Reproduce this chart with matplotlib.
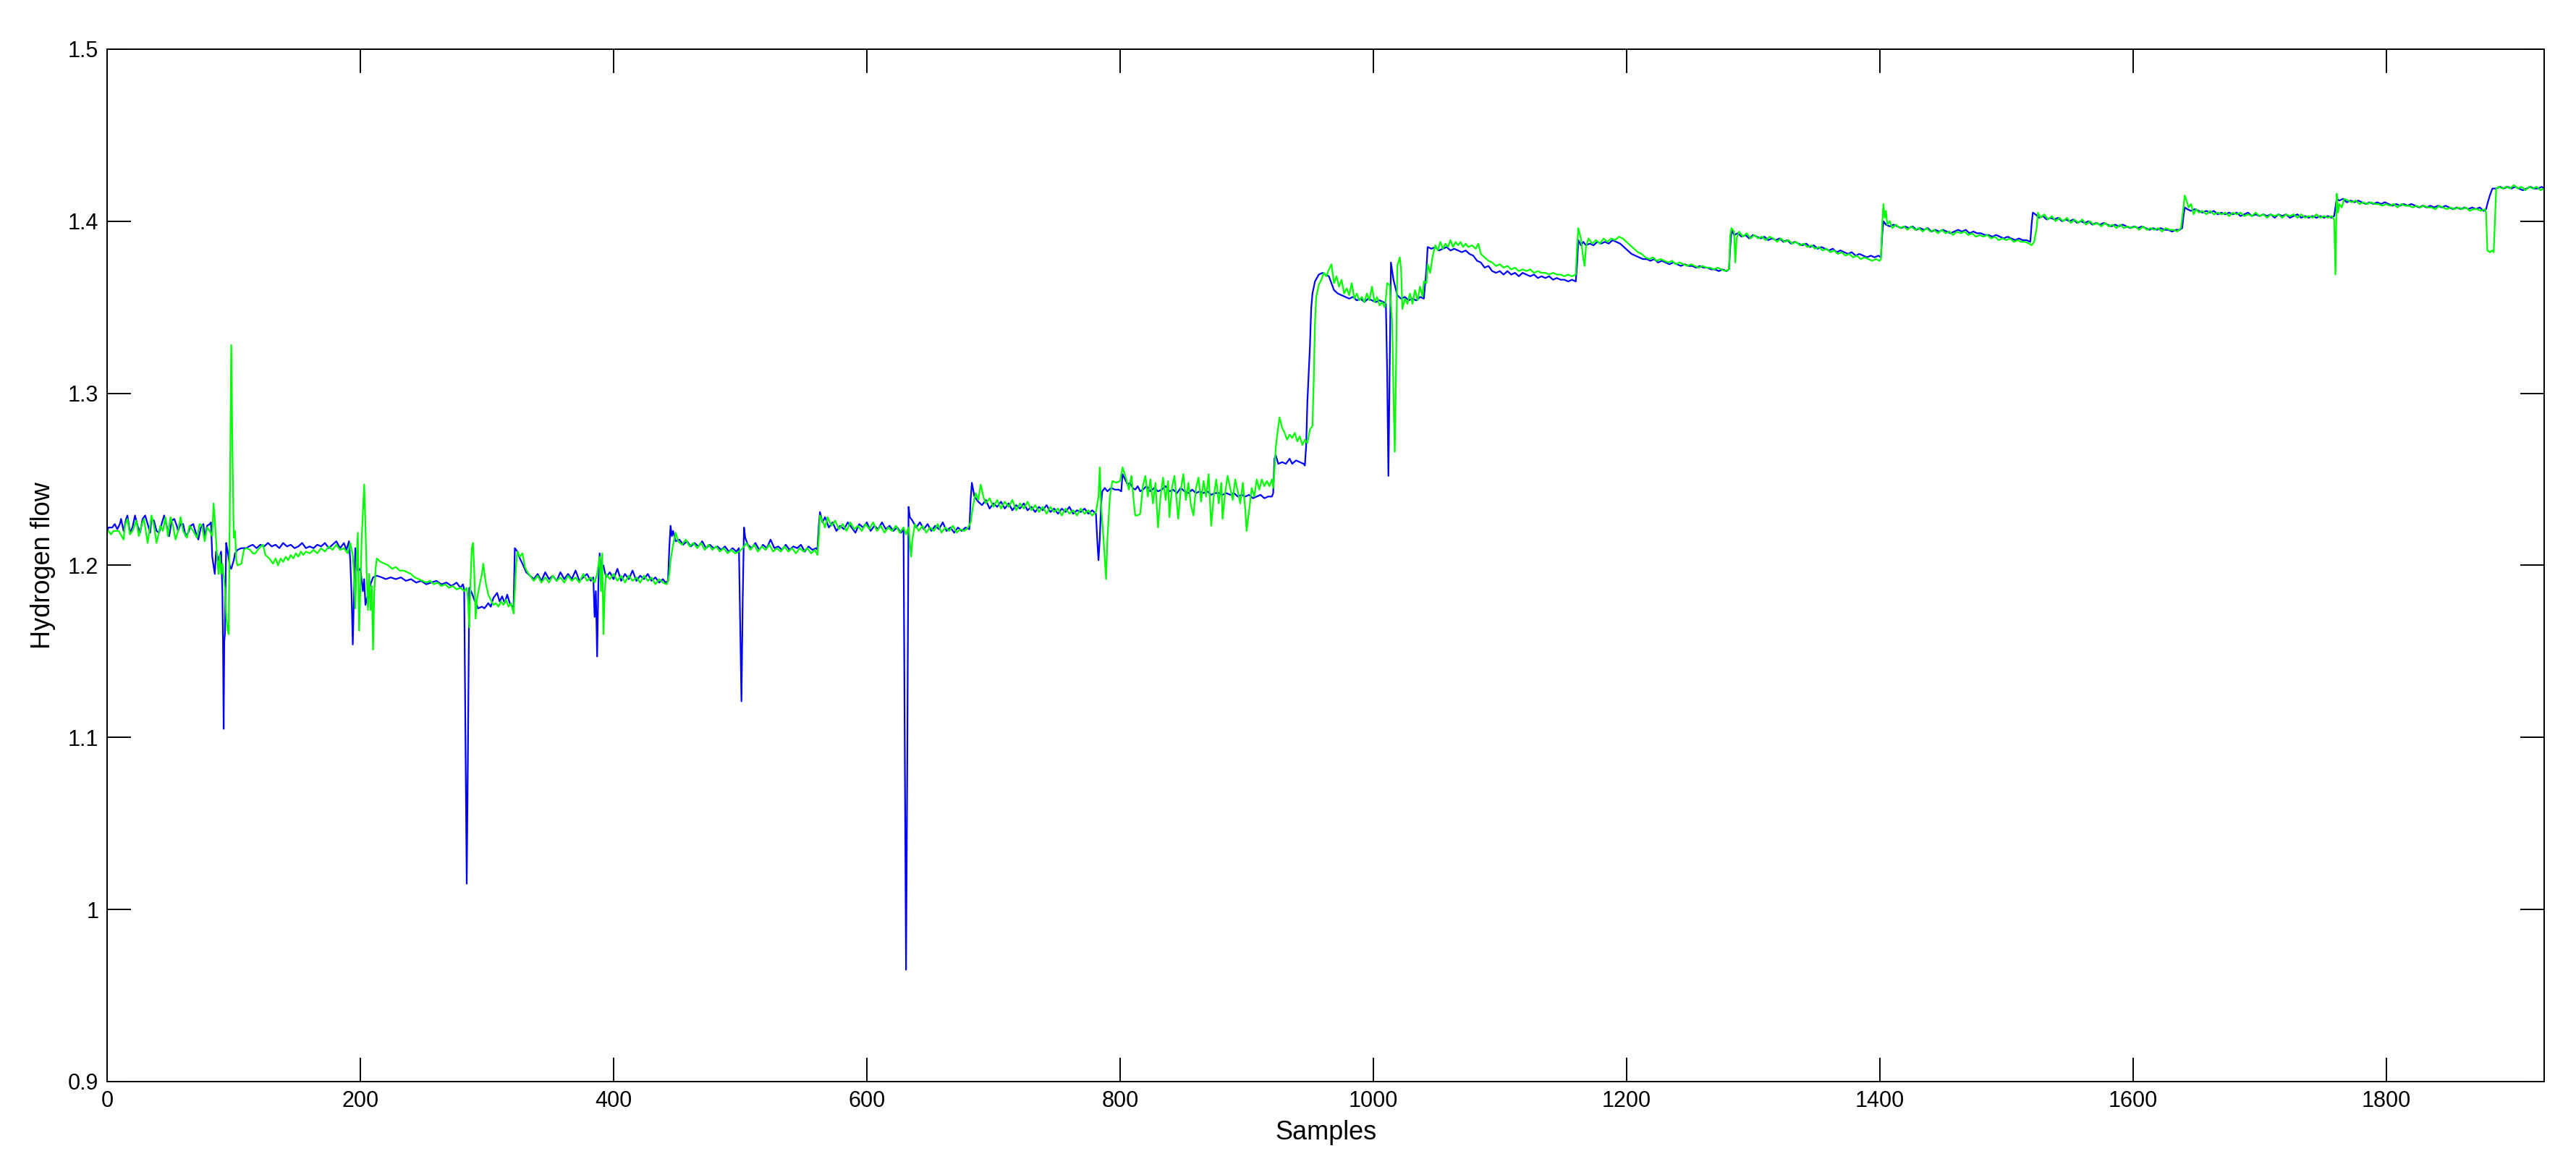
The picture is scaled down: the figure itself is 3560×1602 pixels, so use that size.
import numpy as np
import matplotlib
matplotlib.use('Agg')
import matplotlib.pyplot as plt
from matplotlib.ticker import FuncFormatter

plt.rcParams['font.family'] = ['Liberation Sans', 'DejaVu Sans']

# (sample, hydrogen flow)
blue_points = [
    (0, 1.220), (1, 1.222), (4, 1.222), (6, 1.224), (8, 1.221), (10, 1.224), (11, 1.227), (13, 1.220),
    (15, 1.227), (16, 1.229), (18, 1.219), (20, 1.222), (22, 1.229), (24, 1.223), (26, 1.219), (28, 1.227),
    (30, 1.229), (32, 1.224), (34, 1.219), (35, 1.227), (37, 1.226), (39, 1.220), (41, 1.219), (43, 1.224),
    (45, 1.229), (47, 1.223), (49, 1.217), (51, 1.226), (53, 1.227), (55, 1.223), (56, 1.220), (58, 1.224),
    (60, 1.224), (62, 1.217), (64, 1.219), (66, 1.223), (68, 1.224), (70, 1.219), (72, 1.215), (74, 1.222),
    (76, 1.224), (77, 1.217), (79, 1.223), (81, 1.224), (82, 1.225), (83, 1.205), (85, 1.195), (86, 1.208),
    (88, 1.203), (90, 1.208), (91, 1.185), (91.5, 1.156), (92, 1.105), (92.5, 1.156), (93, 1.160), (94, 1.213),
    (95, 1.209), (97, 1.199), (98, 1.198), (100, 1.203), (101, 1.207), (103, 1.209), (106, 1.210), (110, 1.210),
    (112, 1.211), (115, 1.212), (118, 1.210), (121, 1.212), (124, 1.211), (127, 1.213), (130, 1.211), (133, 1.212),
    (136, 1.210), (139, 1.213), (142, 1.211), (145, 1.212), (148, 1.210), (151, 1.211), (154, 1.213), (157, 1.210),
    (160, 1.211), (163, 1.210), (166, 1.212), (169, 1.211), (172, 1.213), (175, 1.210), (178, 1.212), (181, 1.214),
    (184, 1.210), (187, 1.213), (189, 1.209), (191, 1.214), (192, 1.203), (193, 1.184), (194, 1.154), (195, 1.184),
    (196, 1.210), (197, 1.198), (198, 1.197), (200, 1.198), (202, 1.185), (203, 1.192), (204, 1.177), (205, 1.180),
    (207, 1.186), (208, 1.189), (210, 1.193), (213, 1.194), (217, 1.193), (220, 1.192), (224, 1.193), (228, 1.192),
    (232, 1.193), (236, 1.191), (240, 1.192), (244, 1.190), (248, 1.191), (252, 1.189), (256, 1.190), (260, 1.191),
    (264, 1.189), (268, 1.190), (272, 1.188), (276, 1.190), (279, 1.187), (281, 1.189), (282, 1.186), (283, 1.100),
    (284, 1.015), (285, 1.095), (286, 1.187), (288, 1.184), (290, 1.180), (293, 1.175), (296, 1.176), (298, 1.175),
    (301, 1.178), (303, 1.176), (305, 1.181), (308, 1.184), (310, 1.179), (312, 1.182), (314, 1.178), (316, 1.183),
    (318, 1.178), (320, 1.176), (321, 1.176), (322, 1.210), (324, 1.208), (326, 1.204), (328, 1.201), (331, 1.196),
    (334, 1.194), (337, 1.192), (340, 1.195), (343, 1.191), (346, 1.196), (349, 1.192), (352, 1.194), (355, 1.191),
    (358, 1.196), (361, 1.192), (364, 1.195), (367, 1.192), (370, 1.197), (373, 1.191), (376, 1.193), (379, 1.195),
    (382, 1.191), (384, 1.193), (385, 1.170), (386, 1.185), (387, 1.147), (388, 1.190), (389, 1.207), (390, 1.196),
    (392, 1.200), (394, 1.193), (397, 1.196), (400, 1.192), (403, 1.198), (406, 1.191), (409, 1.195), (412, 1.192),
    (415, 1.197), (418, 1.191), (421, 1.194), (424, 1.192), (427, 1.195), (430, 1.191), (433, 1.193), (436, 1.190),
    (439, 1.192), (441, 1.190), (443, 1.191), (444, 1.210), (445, 1.223), (446, 1.217), (447, 1.220), (449, 1.214),
    (452, 1.215), (455, 1.212), (458, 1.214), (461, 1.211), (464, 1.213), (467, 1.211), (470, 1.214), (473, 1.210),
    (476, 1.212), (479, 1.210), (482, 1.211), (485, 1.209), (488, 1.211), (491, 1.208), (494, 1.210), (497, 1.208),
    (499, 1.210), (500, 1.165), (501, 1.121), (502, 1.180), (503, 1.222), (504, 1.216), (506, 1.212), (509, 1.210),
    (512, 1.213), (515, 1.209), (518, 1.212), (521, 1.210), (524, 1.215), (527, 1.210), (530, 1.211), (533, 1.209),
    (536, 1.212), (539, 1.209), (542, 1.211), (545, 1.210), (548, 1.212), (551, 1.208), (554, 1.211), (557, 1.209),
    (560, 1.210), (561, 1.209), (562, 1.222), (563, 1.231), (565, 1.225), (567, 1.228), (570, 1.222), (573, 1.225),
    (576, 1.220), (579, 1.223), (582, 1.221), (585, 1.225), (588, 1.222), (591, 1.219), (594, 1.224), (597, 1.222),
    (600, 1.225), (603, 1.220), (606, 1.223), (609, 1.221), (612, 1.225), (615, 1.221), (618, 1.223), (621, 1.220),
    (624, 1.222), (627, 1.219), (629, 1.221), (630, 1.090), (631, 0.965), (632, 1.090), (633, 1.234), (634, 1.228),
    (636, 1.226), (639, 1.222), (642, 1.225), (645, 1.221), (648, 1.224), (651, 1.220), (654, 1.223), (657, 1.221),
    (660, 1.225), (663, 1.220), (666, 1.222), (669, 1.219), (672, 1.222), (675, 1.220), (678, 1.222), (681, 1.221),
    (682, 1.238), (683, 1.248), (685, 1.240), (688, 1.237), (691, 1.235), (694, 1.238), (697, 1.233), (700, 1.236),
    (703, 1.234), (706, 1.237), (709, 1.233), (712, 1.236), (715, 1.232), (718, 1.235), (721, 1.233), (724, 1.236),
    (727, 1.232), (730, 1.234), (733, 1.231), (736, 1.234), (739, 1.232), (742, 1.235), (745, 1.231), (748, 1.233),
    (751, 1.230), (754, 1.233), (757, 1.231), (760, 1.234), (763, 1.230), (766, 1.232), (769, 1.231), (772, 1.233),
    (775, 1.230), (778, 1.232), (781, 1.230), (782, 1.215), (783, 1.203), (784, 1.215), (785, 1.235), (786, 1.243),
    (788, 1.245), (790, 1.243), (793, 1.245), (796, 1.244), (799, 1.244), (801, 1.243), (802, 1.253), (804, 1.250),
    (806, 1.247), (808, 1.248), (810, 1.245), (812, 1.244), (814, 1.246), (816, 1.243), (818, 1.244), (821, 1.246),
    (824, 1.243), (827, 1.245), (830, 1.243), (833, 1.244), (836, 1.246), (839, 1.243), (842, 1.244), (845, 1.242),
    (848, 1.245), (851, 1.243), (854, 1.242), (857, 1.244), (860, 1.242), (863, 1.243), (866, 1.242), (869, 1.243),
    (872, 1.241), (875, 1.242), (878, 1.242), (881, 1.241), (884, 1.242), (887, 1.241), (890, 1.242), (893, 1.240),
    (896, 1.241), (899, 1.240), (902, 1.241), (905, 1.239), (908, 1.240), (911, 1.241), (914, 1.239), (917, 1.240),
    (920, 1.240), (921, 1.242), (922, 1.262), (923, 1.264), (925, 1.259), (928, 1.260), (931, 1.259), (934, 1.262),
    (936, 1.259), (939, 1.261), (942, 1.260), (945, 1.259), (946, 1.258), (947, 1.269), (948, 1.295), (950, 1.327),
    (951, 1.349), (952, 1.358), (954, 1.365), (957, 1.369), (960, 1.370), (962, 1.369), (965, 1.368), (967, 1.364),
    (969, 1.360), (972, 1.358), (975, 1.357), (978, 1.356), (981, 1.355), (984, 1.356), (987, 1.354), (990, 1.355),
    (993, 1.353), (996, 1.355), (999, 1.354), (1002, 1.353), (1005, 1.354), (1008, 1.353), (1010, 1.352), (1011, 1.313),
    (1012, 1.252), (1013, 1.313), (1014, 1.376), (1016, 1.366), (1019, 1.357), (1022, 1.355), (1025, 1.356), (1028, 1.354),
    (1031, 1.355), (1034, 1.354), (1037, 1.356), (1040, 1.355), (1042, 1.372), (1043, 1.385), (1046, 1.384), (1049, 1.385),
    (1052, 1.383), (1055, 1.384), (1058, 1.385), (1061, 1.383), (1064, 1.384), (1067, 1.383), (1070, 1.382), (1073, 1.383),
    (1076, 1.381), (1079, 1.380), (1082, 1.377), (1085, 1.376), (1088, 1.373), (1091, 1.374), (1094, 1.371), (1097, 1.370),
    (1100, 1.371), (1103, 1.369), (1106, 1.371), (1109, 1.369), (1112, 1.370), (1115, 1.368), (1118, 1.370), (1121, 1.369),
    (1124, 1.368), (1127, 1.369), (1130, 1.367), (1133, 1.368), (1136, 1.367), (1139, 1.368), (1142, 1.366), (1145, 1.367),
    (1148, 1.366), (1151, 1.366), (1154, 1.365), (1157, 1.366), (1160, 1.365), (1161, 1.375), (1162, 1.389), (1164, 1.386),
    (1166, 1.388), (1168, 1.386), (1171, 1.387), (1174, 1.386), (1177, 1.388), (1180, 1.387), (1183, 1.388), (1186, 1.387),
    (1189, 1.389), (1192, 1.388), (1195, 1.387), (1198, 1.385), (1201, 1.383), (1204, 1.381), (1207, 1.380), (1210, 1.379),
    (1213, 1.378), (1216, 1.378), (1219, 1.377), (1222, 1.378), (1225, 1.376), (1228, 1.377), (1231, 1.376), (1234, 1.375),
    (1237, 1.376), (1240, 1.375), (1243, 1.374), (1246, 1.375), (1249, 1.374), (1252, 1.374), (1255, 1.373), (1258, 1.374),
    (1261, 1.373), (1264, 1.373), (1267, 1.372), (1270, 1.372), (1273, 1.371), (1276, 1.372), (1279, 1.371), (1281, 1.372),
    (1282, 1.385), (1283, 1.395), (1285, 1.392), (1288, 1.393), (1291, 1.391), (1294, 1.392), (1297, 1.390), (1300, 1.392),
    (1303, 1.391), (1306, 1.390), (1309, 1.391), (1312, 1.389), (1315, 1.390), (1318, 1.389), (1321, 1.390), (1324, 1.388),
    (1327, 1.389), (1330, 1.387), (1333, 1.388), (1336, 1.387), (1339, 1.386), (1342, 1.387), (1345, 1.385), (1348, 1.386),
    (1351, 1.384), (1354, 1.385), (1357, 1.384), (1360, 1.383), (1363, 1.384), (1366, 1.382), (1369, 1.383), (1372, 1.382),
    (1375, 1.381), (1378, 1.382), (1381, 1.380), (1384, 1.381), (1387, 1.380), (1390, 1.379), (1393, 1.380), (1396, 1.379),
    (1399, 1.380), (1401, 1.379), (1402, 1.392), (1403, 1.400), (1405, 1.398), (1408, 1.397), (1411, 1.398), (1414, 1.397),
    (1417, 1.396), (1420, 1.397), (1423, 1.396), (1426, 1.397), (1429, 1.395), (1432, 1.396), (1435, 1.395), (1438, 1.396),
    (1441, 1.394), (1444, 1.395), (1447, 1.394), (1450, 1.395), (1453, 1.394), (1456, 1.393), (1459, 1.394), (1462, 1.395),
    (1465, 1.394), (1468, 1.395), (1471, 1.393), (1474, 1.394), (1477, 1.393), (1480, 1.393), (1483, 1.392), (1486, 1.392),
    (1489, 1.391), (1492, 1.392), (1495, 1.391), (1498, 1.390), (1501, 1.391), (1504, 1.390), (1507, 1.389), (1510, 1.390),
    (1513, 1.389), (1516, 1.389), (1519, 1.388), (1520, 1.398), (1521, 1.405), (1523, 1.404), (1526, 1.402), (1529, 1.403),
    (1532, 1.401), (1535, 1.402), (1538, 1.401), (1541, 1.402), (1544, 1.400), (1547, 1.401), (1550, 1.400), (1553, 1.401),
    (1556, 1.399), (1559, 1.400), (1562, 1.399), (1565, 1.400), (1568, 1.398), (1571, 1.399), (1574, 1.398), (1577, 1.399),
    (1580, 1.398), (1583, 1.397), (1586, 1.398), (1589, 1.397), (1592, 1.398), (1595, 1.397), (1598, 1.396), (1601, 1.397),
    (1604, 1.396), (1607, 1.397), (1610, 1.396), (1613, 1.395), (1616, 1.396), (1619, 1.395), (1622, 1.396), (1625, 1.395),
    (1628, 1.395), (1631, 1.394), (1634, 1.395), (1637, 1.395), (1639, 1.396), (1640, 1.403), (1641, 1.408), (1643, 1.407),
    (1646, 1.406), (1649, 1.407), (1652, 1.406), (1655, 1.405), (1658, 1.406), (1661, 1.405), (1664, 1.406), (1667, 1.404),
    (1670, 1.405), (1673, 1.404), (1676, 1.405), (1679, 1.404), (1682, 1.405), (1685, 1.403), (1688, 1.404), (1691, 1.405),
    (1694, 1.403), (1697, 1.404), (1700, 1.403), (1703, 1.404), (1706, 1.403), (1709, 1.404), (1712, 1.402), (1715, 1.404),
    (1718, 1.403), (1721, 1.404), (1724, 1.402), (1727, 1.403), (1730, 1.404), (1733, 1.402), (1736, 1.403), (1739, 1.402),
    (1742, 1.403), (1745, 1.402), (1748, 1.403), (1751, 1.402), (1754, 1.403), (1757, 1.402), (1759, 1.403), (1760, 1.408),
    (1761, 1.413), (1763, 1.412), (1766, 1.413), (1769, 1.411), (1772, 1.412), (1775, 1.411), (1778, 1.412), (1781, 1.411),
    (1784, 1.410), (1787, 1.411), (1790, 1.410), (1793, 1.411), (1796, 1.410), (1799, 1.411), (1802, 1.410), (1805, 1.409),
    (1808, 1.410), (1811, 1.409), (1814, 1.410), (1817, 1.409), (1820, 1.410), (1823, 1.409), (1826, 1.408), (1829, 1.409),
    (1832, 1.408), (1835, 1.409), (1838, 1.408), (1841, 1.409), (1844, 1.408), (1847, 1.409), (1850, 1.408), (1853, 1.407),
    (1856, 1.408), (1859, 1.407), (1862, 1.408), (1865, 1.407), (1868, 1.408), (1871, 1.407), (1874, 1.408), (1877, 1.406),
    (1879, 1.407), (1880, 1.410), (1882, 1.415), (1884, 1.419), (1887, 1.419), (1890, 1.420), (1893, 1.419), (1896, 1.420),
    (1899, 1.419), (1902, 1.420), (1905, 1.419), (1908, 1.418), (1911, 1.419), (1914, 1.420), (1917, 1.419), (1920, 1.419),
    (1923, 1.420), (1925, 1.419),
]

green_points = [
    (0, 1.219), (1, 1.220), (3, 1.218), (5, 1.220), (9, 1.220), (13, 1.215), (14, 1.223), (16, 1.227), (18, 1.218),
    (20, 1.220), (23, 1.226), (25, 1.217), (27, 1.223), (29, 1.227), (32, 1.213), (34, 1.223), (35, 1.229), (37, 1.223),
    (39, 1.213), (42, 1.223), (44, 1.220), (46, 1.228), (48, 1.217), (50, 1.228), (52, 1.223), (54, 1.215), (56, 1.220),
    (58, 1.228), (60, 1.220), (63, 1.216), (65, 1.223), (68, 1.220), (71, 1.216), (73, 1.224), (75, 1.223), (77, 1.214),
    (79, 1.222), (81, 1.220), (83, 1.217), (84, 1.236), (85, 1.227), (86, 1.215), (87, 1.203), (88, 1.195), (89, 1.206),
    (90, 1.195), (91, 1.201), (93, 1.187), (94, 1.171), (95, 1.163), (96, 1.160), (97, 1.244), (98, 1.328), (99, 1.263),
    (100, 1.216), (101, 1.220), (102, 1.203), (103, 1.200), (106, 1.201), (108, 1.209), (110, 1.210), (113, 1.209),
    (115, 1.207), (117, 1.207), (120, 1.210), (123, 1.212), (125, 1.206), (128, 1.204), (131, 1.201), (133, 1.204),
    (135, 1.200), (137, 1.204), (139, 1.202), (141, 1.205), (143, 1.203), (145, 1.206), (147, 1.204), (149, 1.207),
    (151, 1.205), (153, 1.208), (155, 1.206), (157, 1.208), (160, 1.207), (163, 1.209), (166, 1.207), (169, 1.210),
    (172, 1.208), (175, 1.211), (178, 1.209), (181, 1.212), (184, 1.209), (187, 1.210), (190, 1.207), (192, 1.213),
    (194, 1.206), (195, 1.195), (196, 1.175), (197, 1.203), (198, 1.219), (199, 1.162), (200, 1.187), (201, 1.215),
    (203, 1.247), (204, 1.223), (205, 1.195), (206, 1.174), (207, 1.195), (208, 1.174), (209, 1.188), (210, 1.151),
    (211, 1.185), (212, 1.198), (213, 1.204), (216, 1.202), (219, 1.201), (222, 1.200), (225, 1.198), (228, 1.199),
    (231, 1.197), (234, 1.197), (237, 1.196), (240, 1.195), (243, 1.193), (246, 1.192), (249, 1.191), (252, 1.190),
    (255, 1.191), (258, 1.189), (261, 1.190), (264, 1.188), (267, 1.189), (270, 1.187), (273, 1.188), (276, 1.186),
    (279, 1.187), (282, 1.185), (284, 1.187), (285, 1.180), (286, 1.164), (287, 1.190), (288, 1.210), (289, 1.213),
    (290, 1.195), (291, 1.169), (292, 1.180), (294, 1.188), (296, 1.195), (297, 1.201), (299, 1.190), (301, 1.183),
    (303, 1.180), (305, 1.177), (307, 1.178), (309, 1.176), (311, 1.179), (313, 1.177), (315, 1.180), (317, 1.176),
    (319, 1.178), (321, 1.172), (322, 1.185), (323, 1.200), (324, 1.208), (326, 1.205), (328, 1.207), (330, 1.199),
    (332, 1.196), (334, 1.194), (337, 1.191), (340, 1.194), (343, 1.190), (346, 1.193), (349, 1.190), (352, 1.194),
    (355, 1.191), (358, 1.193), (361, 1.190), (364, 1.194), (367, 1.191), (370, 1.193), (373, 1.190), (376, 1.195),
    (379, 1.191), (382, 1.193), (385, 1.190), (387, 1.195), (389, 1.205), (390, 1.185), (391, 1.207), (392, 1.160),
    (393, 1.185), (394, 1.195), (397, 1.192), (400, 1.195), (403, 1.191), (406, 1.194), (409, 1.190), (412, 1.194),
    (415, 1.191), (418, 1.193), (421, 1.190), (424, 1.194), (427, 1.191), (430, 1.193), (433, 1.189), (436, 1.192),
    (439, 1.190), (442, 1.189), (443, 1.191), (444, 1.195), (445, 1.203), (447, 1.212), (449, 1.219), (451, 1.214),
    (454, 1.212), (457, 1.215), (460, 1.211), (463, 1.213), (466, 1.210), (469, 1.213), (472, 1.209), (475, 1.212),
    (478, 1.209), (481, 1.211), (484, 1.208), (487, 1.210), (490, 1.207), (493, 1.209), (496, 1.207), (499, 1.208),
    (502, 1.210), (505, 1.213), (508, 1.209), (511, 1.212), (514, 1.208), (517, 1.211), (520, 1.209), (523, 1.212),
    (526, 1.208), (529, 1.210), (532, 1.208), (535, 1.211), (538, 1.208), (541, 1.210), (544, 1.207), (547, 1.210),
    (550, 1.208), (553, 1.210), (556, 1.207), (559, 1.209), (561, 1.206), (562, 1.215), (563, 1.229), (565, 1.226),
    (567, 1.222), (569, 1.228), (572, 1.223), (575, 1.226), (578, 1.221), (581, 1.224), (584, 1.220), (587, 1.225),
    (590, 1.221), (593, 1.223), (596, 1.220), (599, 1.224), (602, 1.221), (605, 1.225), (608, 1.220), (611, 1.223),
    (614, 1.219), (617, 1.222), (620, 1.220), (623, 1.223), (626, 1.219), (629, 1.222), (631, 1.218), (633, 1.222),
    (635, 1.205), (636, 1.215), (638, 1.224), (641, 1.220), (644, 1.223), (647, 1.219), (650, 1.222), (653, 1.220),
    (656, 1.224), (659, 1.219), (662, 1.222), (665, 1.220), (668, 1.223), (671, 1.219), (674, 1.221), (677, 1.220),
    (680, 1.222), (682, 1.225), (684, 1.235), (686, 1.242), (688, 1.238), (690, 1.247), (692, 1.240), (694, 1.236),
    (697, 1.239), (700, 1.234), (703, 1.238), (706, 1.233), (709, 1.237), (712, 1.234), (715, 1.238), (718, 1.232),
    (721, 1.236), (724, 1.233), (727, 1.237), (730, 1.232), (733, 1.235), (736, 1.231), (739, 1.234), (742, 1.230),
    (745, 1.234), (748, 1.231), (751, 1.233), (754, 1.229), (757, 1.233), (760, 1.230), (763, 1.232), (766, 1.229),
    (769, 1.233), (772, 1.230), (775, 1.232), (778, 1.229), (781, 1.231), (783, 1.240), (784, 1.257), (785, 1.235),
    (787, 1.215), (789, 1.192), (790, 1.215), (792, 1.240), (794, 1.249), (797, 1.248), (800, 1.249), (802, 1.257),
    (805, 1.250), (807, 1.244), (809, 1.252), (811, 1.236), (812, 1.229), (814, 1.229), (816, 1.230), (818, 1.246),
    (820, 1.252), (822, 1.240), (824, 1.250), (826, 1.236), (828, 1.248), (830, 1.222), (832, 1.240), (834, 1.251),
    (836, 1.238), (838, 1.249), (839, 1.228), (841, 1.245), (843, 1.252), (845, 1.235), (846, 1.227), (848, 1.244),
    (850, 1.253), (852, 1.238), (854, 1.248), (856, 1.235), (858, 1.229), (860, 1.245), (862, 1.251), (864, 1.237),
    (866, 1.249), (868, 1.240), (870, 1.253), (872, 1.223), (874, 1.240), (876, 1.250), (878, 1.236), (880, 1.248),
    (881, 1.227), (883, 1.242), (885, 1.252), (887, 1.245), (889, 1.238), (891, 1.250), (893, 1.243), (895, 1.236),
    (897, 1.248), (899, 1.232), (900, 1.220), (902, 1.232), (904, 1.245), (906, 1.240), (908, 1.250), (910, 1.244),
    (912, 1.250), (914, 1.246), (916, 1.249), (918, 1.246), (920, 1.250), (921, 1.245), (922, 1.255), (923, 1.268),
    (924, 1.275), (926, 1.286), (928, 1.280), (930, 1.277), (932, 1.273), (934, 1.276), (936, 1.274), (938, 1.277),
    (940, 1.272), (942, 1.275), (944, 1.270), (946, 1.273), (948, 1.271), (950, 1.279), (952, 1.281), (953, 1.307),
    (954, 1.341), (955, 1.356), (957, 1.363), (959, 1.366), (961, 1.370), (963, 1.368), (965, 1.372), (967, 1.375),
    (969, 1.364), (971, 1.368), (973, 1.362), (975, 1.366), (977, 1.358), (979, 1.361), (981, 1.357), (983, 1.364),
    (985, 1.355), (987, 1.358), (989, 1.354), (991, 1.356), (993, 1.353), (995, 1.358), (997, 1.354), (999, 1.362),
    (1001, 1.353), (1003, 1.356), (1005, 1.351), (1007, 1.353), (1009, 1.350), (1010, 1.355), (1011, 1.364),
    (1013, 1.363), (1015, 1.340), (1016, 1.300), (1017, 1.266), (1018, 1.313), (1019, 1.374), (1021, 1.379),
    (1022, 1.372), (1023, 1.349), (1025, 1.355), (1027, 1.352), (1029, 1.358), (1031, 1.352), (1033, 1.360),
    (1035, 1.354), (1037, 1.362), (1039, 1.356), (1040, 1.365), (1042, 1.364), (1043, 1.375), (1045, 1.370),
    (1047, 1.380), (1049, 1.386), (1051, 1.383), (1053, 1.388), (1055, 1.384), (1057, 1.387), (1059, 1.385),
    (1061, 1.389), (1063, 1.385), (1065, 1.388), (1067, 1.386), (1069, 1.388), (1071, 1.385), (1073, 1.387),
    (1075, 1.385), (1078, 1.386), (1081, 1.384), (1083, 1.387), (1085, 1.381), (1088, 1.379), (1091, 1.377),
    (1094, 1.376), (1097, 1.374), (1100, 1.375), (1103, 1.373), (1106, 1.374), (1109, 1.372), (1112, 1.373),
    (1115, 1.371), (1118, 1.372), (1121, 1.371), (1124, 1.372), (1127, 1.370), (1130, 1.371), (1133, 1.370),
    (1136, 1.370), (1139, 1.369), (1142, 1.370), (1145, 1.369), (1148, 1.369), (1151, 1.368), (1154, 1.369),
    (1157, 1.368), (1160, 1.369), (1161, 1.385), (1162, 1.396), (1164, 1.390), (1166, 1.378), (1167, 1.374),
    (1168, 1.385), (1170, 1.390), (1173, 1.387), (1176, 1.389), (1179, 1.387), (1182, 1.390), (1185, 1.388),
    (1188, 1.390), (1191, 1.389), (1194, 1.391), (1197, 1.390), (1200, 1.388), (1203, 1.386), (1206, 1.384),
    (1209, 1.382), (1212, 1.381), (1215, 1.379), (1218, 1.378), (1221, 1.379), (1224, 1.377), (1227, 1.378),
    (1230, 1.377), (1233, 1.376), (1236, 1.377), (1239, 1.375), (1242, 1.376), (1245, 1.375), (1248, 1.374),
    (1251, 1.375), (1254, 1.374), (1257, 1.373), (1260, 1.374), (1263, 1.373), (1266, 1.373), (1269, 1.372),
    (1272, 1.373), (1275, 1.372), (1278, 1.371), (1281, 1.372), (1282, 1.392), (1283, 1.396), (1285, 1.394),
    (1286, 1.376), (1287, 1.390), (1289, 1.394), (1292, 1.391), (1295, 1.393), (1298, 1.390), (1301, 1.392),
    (1304, 1.390), (1307, 1.391), (1310, 1.389), (1313, 1.391), (1316, 1.390), (1319, 1.388), (1322, 1.390),
    (1325, 1.388), (1328, 1.389), (1331, 1.387), (1334, 1.388), (1337, 1.386), (1340, 1.387), (1343, 1.385),
    (1346, 1.386), (1349, 1.384), (1352, 1.385), (1355, 1.383), (1358, 1.384), (1361, 1.382), (1364, 1.383),
    (1367, 1.381), (1370, 1.382), (1373, 1.380), (1376, 1.381), (1379, 1.379), (1382, 1.380), (1385, 1.378),
    (1388, 1.379), (1391, 1.378), (1394, 1.377), (1397, 1.378), (1400, 1.377), (1401, 1.378), (1402, 1.398),
    (1403, 1.410), (1404, 1.402), (1405, 1.406), (1406, 1.398), (1408, 1.400), (1410, 1.396), (1413, 1.398),
    (1416, 1.396), (1419, 1.397), (1422, 1.395), (1425, 1.397), (1428, 1.395), (1431, 1.396), (1434, 1.394),
    (1437, 1.396), (1440, 1.394), (1443, 1.395), (1446, 1.393), (1449, 1.395), (1452, 1.393), (1455, 1.394),
    (1458, 1.392), (1461, 1.394), (1464, 1.393), (1467, 1.394), (1470, 1.392), (1473, 1.393), (1476, 1.391),
    (1479, 1.392), (1482, 1.391), (1485, 1.392), (1488, 1.390), (1491, 1.391), (1494, 1.389), (1497, 1.390),
    (1500, 1.389), (1503, 1.390), (1506, 1.388), (1509, 1.389), (1512, 1.388), (1515, 1.388), (1518, 1.387),
    (1520, 1.386), (1522, 1.388), (1524, 1.396), (1525, 1.405), (1527, 1.402), (1530, 1.404), (1533, 1.401),
    (1536, 1.403), (1539, 1.400), (1542, 1.402), (1545, 1.400), (1548, 1.402), (1551, 1.399), (1554, 1.401),
    (1557, 1.399), (1560, 1.401), (1563, 1.398), (1566, 1.400), (1569, 1.398), (1572, 1.399), (1575, 1.397),
    (1578, 1.399), (1581, 1.397), (1584, 1.398), (1587, 1.396), (1590, 1.398), (1593, 1.396), (1596, 1.397),
    (1599, 1.396), (1602, 1.397), (1605, 1.395), (1608, 1.397), (1611, 1.395), (1614, 1.396), (1617, 1.395),
    (1620, 1.396), (1623, 1.394), (1626, 1.396), (1629, 1.395), (1632, 1.395), (1635, 1.394), (1638, 1.396),
    (1640, 1.408), (1641, 1.415), (1642, 1.413), (1644, 1.408), (1646, 1.410), (1648, 1.404), (1650, 1.407),
    (1652, 1.405), (1655, 1.406), (1658, 1.404), (1661, 1.406), (1664, 1.404), (1667, 1.405), (1670, 1.404),
    (1673, 1.405), (1676, 1.403), (1679, 1.405), (1682, 1.404), (1685, 1.405), (1688, 1.403), (1691, 1.404),
    (1694, 1.403), (1697, 1.405), (1700, 1.403), (1703, 1.404), (1706, 1.402), (1709, 1.404), (1712, 1.403),
    (1715, 1.404), (1718, 1.402), (1721, 1.404), (1724, 1.403), (1727, 1.404), (1730, 1.402), (1733, 1.404),
    (1736, 1.402), (1739, 1.403), (1742, 1.402), (1745, 1.404), (1748, 1.402), (1751, 1.403), (1754, 1.402),
    (1757, 1.403), (1759, 1.401), (1760, 1.369), (1761, 1.416), (1762, 1.405), (1763, 1.410), (1765, 1.408),
    (1767, 1.413), (1770, 1.412), (1773, 1.411), (1776, 1.412), (1779, 1.410), (1782, 1.411), (1785, 1.410),
    (1788, 1.411), (1791, 1.410), (1794, 1.410), (1797, 1.409), (1800, 1.410), (1803, 1.409), (1806, 1.410),
    (1809, 1.408), (1812, 1.410), (1815, 1.409), (1818, 1.409), (1821, 1.408), (1824, 1.409), (1827, 1.408),
    (1830, 1.409), (1833, 1.408), (1836, 1.408), (1839, 1.407), (1842, 1.409), (1845, 1.408), (1848, 1.407),
    (1851, 1.408), (1854, 1.407), (1857, 1.408), (1860, 1.407), (1863, 1.408), (1866, 1.406), (1869, 1.407),
    (1872, 1.407), (1875, 1.406), (1878, 1.407), (1879, 1.405), (1880, 1.383), (1882, 1.382), (1884, 1.383),
    (1885, 1.382), (1886, 1.400), (1887, 1.419), (1889, 1.420), (1892, 1.419), (1895, 1.420), (1898, 1.419),
    (1901, 1.421), (1904, 1.419), (1907, 1.420), (1910, 1.418), (1913, 1.420), (1916, 1.419), (1919, 1.420),
    (1922, 1.418), (1925, 1.419),
]

x_ticks = [0, 200, 400, 600, 800, 1000, 1200, 1400, 1600, 1800]
y_ticks = [0.9, 1.0, 1.1, 1.2, 1.3, 1.4, 1.5]

blue = np.array(blue_points)
green = np.array(green_points)

fig = plt.figure(figsize=(17.8, 8.01), dpi=200)
ax = fig.add_axes([0.0416, 0.0668, 0.9461, 0.8908])

ax.plot(blue[:, 0], blue[:, 1], color='#0000ff', lw=0.8)
ax.plot(green[:, 0], green[:, 1], color='#00ff00', lw=0.8)

ax.set_xlim(0, 1925)
ax.set_ylim(0.9, 1.5)
ax.set_xticks(x_ticks)
ax.set_yticks(y_ticks)
ax.yaxis.set_major_formatter(FuncFormatter(lambda v, p: '%g' % v))
ax.tick_params(direction='in', length=12, width=0.7, top=True, right=True,
               labelsize=11, pad=4.3)
for s in ax.spines.values():
    s.set_linewidth(0.7)

ax.set_xlabel('Samples', fontsize=13, labelpad=4)
ax.set_ylabel('Hydrogen flow', fontsize=13, labelpad=6)

plt.savefig('out.png', dpi=200)
